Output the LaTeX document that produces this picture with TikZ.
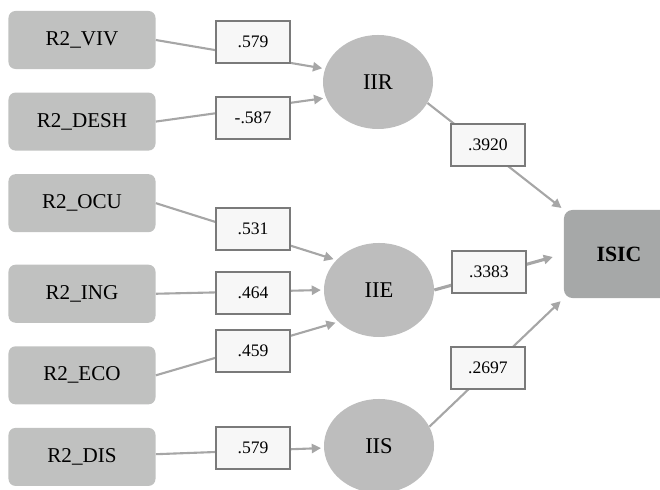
\documentclass[tikz,border=0pt]{standalone}
\usepackage{fontspec}
\setmainfont{Liberation Serif}
\usetikzlibrary{positioning, arrows.meta, shapes.geometric}

\definecolor{varfill}{HTML}{C0C1C0}
\definecolor{latfill}{HTML}{BDBDBD}
\definecolor{isicfill}{HTML}{A6A8A8}
\definecolor{wfill}{HTML}{F7F7F7}
\definecolor{wborder}{HTML}{7A7A7A}
\definecolor{linkgray}{HTML}{A6A6A6}

\begin{document}
\begin{tikzpicture}[
        x=0.025cm, y=-0.025cm,
        node distance=0.575cm and 1cm,
        indicator/.style={fill=varfill, rounded corners=5pt, minimum width=3.675cm, minimum height=1.45cm, inner sep=0pt, font=\fontsize{15}{18}\selectfont},
        latent/.style={ellipse, fill=latfill, minimum width=2.75cm, minimum height=2.35cm, inner sep=0pt, font=\fontsize{16}{19}\selectfont},
        index/.style={fill=isicfill, rounded corners=6pt, minimum width=2.75cm, minimum height=2.2cm, inner sep=0pt, font=\fontsize{15.5}{18}\selectfont\bfseries},
        weight/.style={draw=wborder, fill=wfill, line width=1.5pt, minimum width=1.85cm, minimum height=1.06cm, inner sep=0pt, font=\fontsize{12.5}{15}\selectfont},
        link/.style={draw=linkgray, line width=1.5pt, shorten >=2pt, -{Triangle[length=6.5pt, width=6.5pt]}}
    ]

    \useasboundingbox (0,0) rectangle (660,490);

    % Indicators on the left
    \node[indicator] (viv) at (82,40) {R2\_VIV};
    \node[indicator] (desh) [below=of viv] {R2\_DESH};
    \node[indicator] (ocu) [below=of desh] {R2\_OCU};
    \node[indicator] (ing) [below=0.8cm of ocu] {R2\_ING};
    \node[indicator] (eco) [below=of ing] {R2\_ECO};
    \node[indicator] (dis) [below=of eco] {R2\_DIS};

    % Latent variables
    \node[latent] (iir) at (378,82) {IIR};
    \node[latent] (iie) at (379,290) {IIE};
    \node[latent] (iis) at (379,446) {IIS};

    % Index
    \node[index] (isic) at (619,254) {ISIC};

    % Paths into the latent variables
    \draw[link] (viv.east) -- (iir.166);
    \draw[link] (desh.east) -- (iir.197);
    \draw[link] (ocu.east) -- (iie.145);
    \draw[link] (ing.east) -- (iie.west);
    \draw[link] (eco.east) -- (iie.218);
    \draw[link] (dis) -- (iis);

    % Paths into ISIC
    \draw[link] (iir.337) -- (isic.north west);
    \draw[link, line width=2.2pt, shorten >=8pt] (iie.east) -- (isic.west);
    \draw[link, shorten >=3pt] (iis.21) -- (isic.south west);

    % Loadings
    \node[weight] (wviv) at (253,42) {.579};
    \node[weight] (wdesh) at (253,118) {-.587};
    \node[weight] (wocu) at (253,229) {.531};
    \node[weight] (wing) at (253,293) {.464};
    \node[weight] (weco) at (253,351) {.459};
    \node[weight] (wdis) at (253,448) {.579};

    % Coefficients
    \node[weight] (wiir) at (488,145) {.3920};
    \node[weight] (wiie) at (489,272) {.3383};
    \node[weight] (wiis) at (488,368) {.2697};

\end{tikzpicture}
\end{document}
